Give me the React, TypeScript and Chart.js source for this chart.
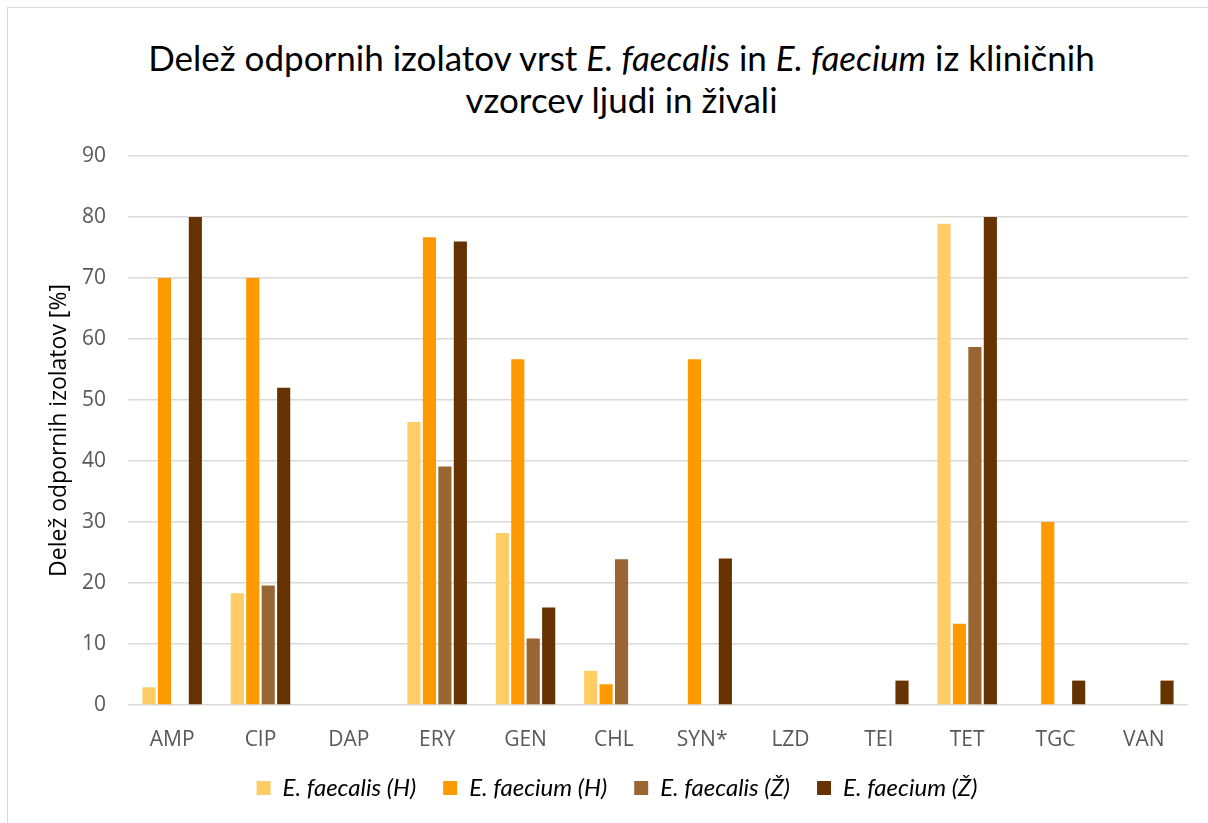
import React, { useEffect, useRef } from "react";
import { Chart, registerables } from "chart.js";

Chart.register(...registerables);

const categories = ["AMP", "CIP", "DAP", "ERY", "GEN", "CHL", "SYN*", "LZD", "TEI", "TET", "TGC", "VAN"];
const faecalisH = [2.9, 18.3, 0, 46.4, 28.2, 5.6, 0, 0, 0, 78.9, 0, 0];
const faeciumH = [70, 70, 0, 76.7, 56.7, 3.4, 56.7, 0, 0, 13.3, 30, 0];
const faecalisZ = [0, 19.6, 0, 39.1, 10.9, 23.9, 0, 0, 0, 58.7, 0, 0];
const faeciumZ = [80, 52, 0, 76, 16, 0, 24, 0, 4, 80, 4, 4];
const seriesLabels = ["E. faecalis (H)", "E. faecium (H)", "E. faecalis (Ž)", "E. faecium (Ž)"];
const seriesColors = ["#FFCC66", "#FF9900", "#996633", "#663300"];
const yTicks = [0, 10, 20, 30, 40, 50, 60, 70, 80, 90];

export default function App() {
  const canvasRef = useRef<HTMLCanvasElement | null>(null);

  useEffect(() => {
    document.body.style.margin = "0";
    const ctx = canvasRef.current!.getContext("2d")!;
    const data = [faecalisH, faeciumH, faecalisZ, faeciumZ];
    const chart = new Chart(ctx, {
      type: "bar",
      data: {
        labels: categories,
        datasets: data.map((d, i) => ({
          label: seriesLabels[i],
          data: d,
          backgroundColor: seriesColors[i],
          borderWidth: 0,
          barPercentage: 0.85,
          categoryPercentage: 0.7,
        })),
      },
      options: {
        animation: false,
        responsive: false,
        maintainAspectRatio: false,
        layout: { padding: { left: 46, right: 20, top: 156, bottom: 13 } },
        plugins: {
          title: { display: false },
          tooltip: { enabled: false },
          legend: {
            position: "bottom",
            labels: {
              boxWidth: 14,
              boxHeight: 14,
              padding: 27,
              color: "#000",
              font: { family: "Lato", size: 24, style: "italic" },
            },
          },
        },
        scales: {
          x: {
            grid: { display: false },
            border: { display: false },
            ticks: { color: "#595959", font: { family: "Open Sans", size: 21 }, padding: 14 },
            afterFit: (s: any) => { s.height = 44; },
          },
          y: {
            min: 0,
            max: 90,
            afterBuildTicks: (s: any) => { s.ticks = yTicks.map((v) => ({ value: v })); },
            grid: { color: "#d9d9d9", lineWidth: 1.5, drawTicks: false },
            border: { display: false },
            ticks: { color: "#595959", font: { family: "Open Sans", size: 21 }, padding: 22 },
            title: {
              display: true,
              text: "Delež odpornih izolatov [%]",
              color: "#000",
              font: { family: "Open Sans", size: 23 },
              padding: { top: 0, bottom: 6 },
            },
            afterFit: (s: any) => { s.width = 82; },
          },
        },
      },
    });
    return () => chart.destroy();
  }, []);

  return (
    <div style={{ position: "relative", width: 1208, height: 823, overflow: "hidden", background: "#fff" }}>
      <div
        style={{
          position: "absolute",
          left: 7,
          top: 7,
          width: 1220,
          height: 840,
          border: "1px solid #d9d9d9",
          boxSizing: "border-box",
        }}
      />
      <div
        style={{
          position: "absolute",
          left: 0,
          top: 36,
          width: 1243,
          textAlign: "center",
          fontFamily: "Lato",
          fontSize: 35,
          lineHeight: "42px",
          color: "#000",
        }}
      >
        Delež odpornih izolatov vrst <i>E. faecalis</i> in <i>E. faecium</i> iz kliničnih
        <br />
        vzorcev ljudi in živali
      </div>
      <canvas ref={canvasRef} width={1208} height={823} style={{ position: "absolute", left: 0, top: 0 }} />
    </div>
  );
}
